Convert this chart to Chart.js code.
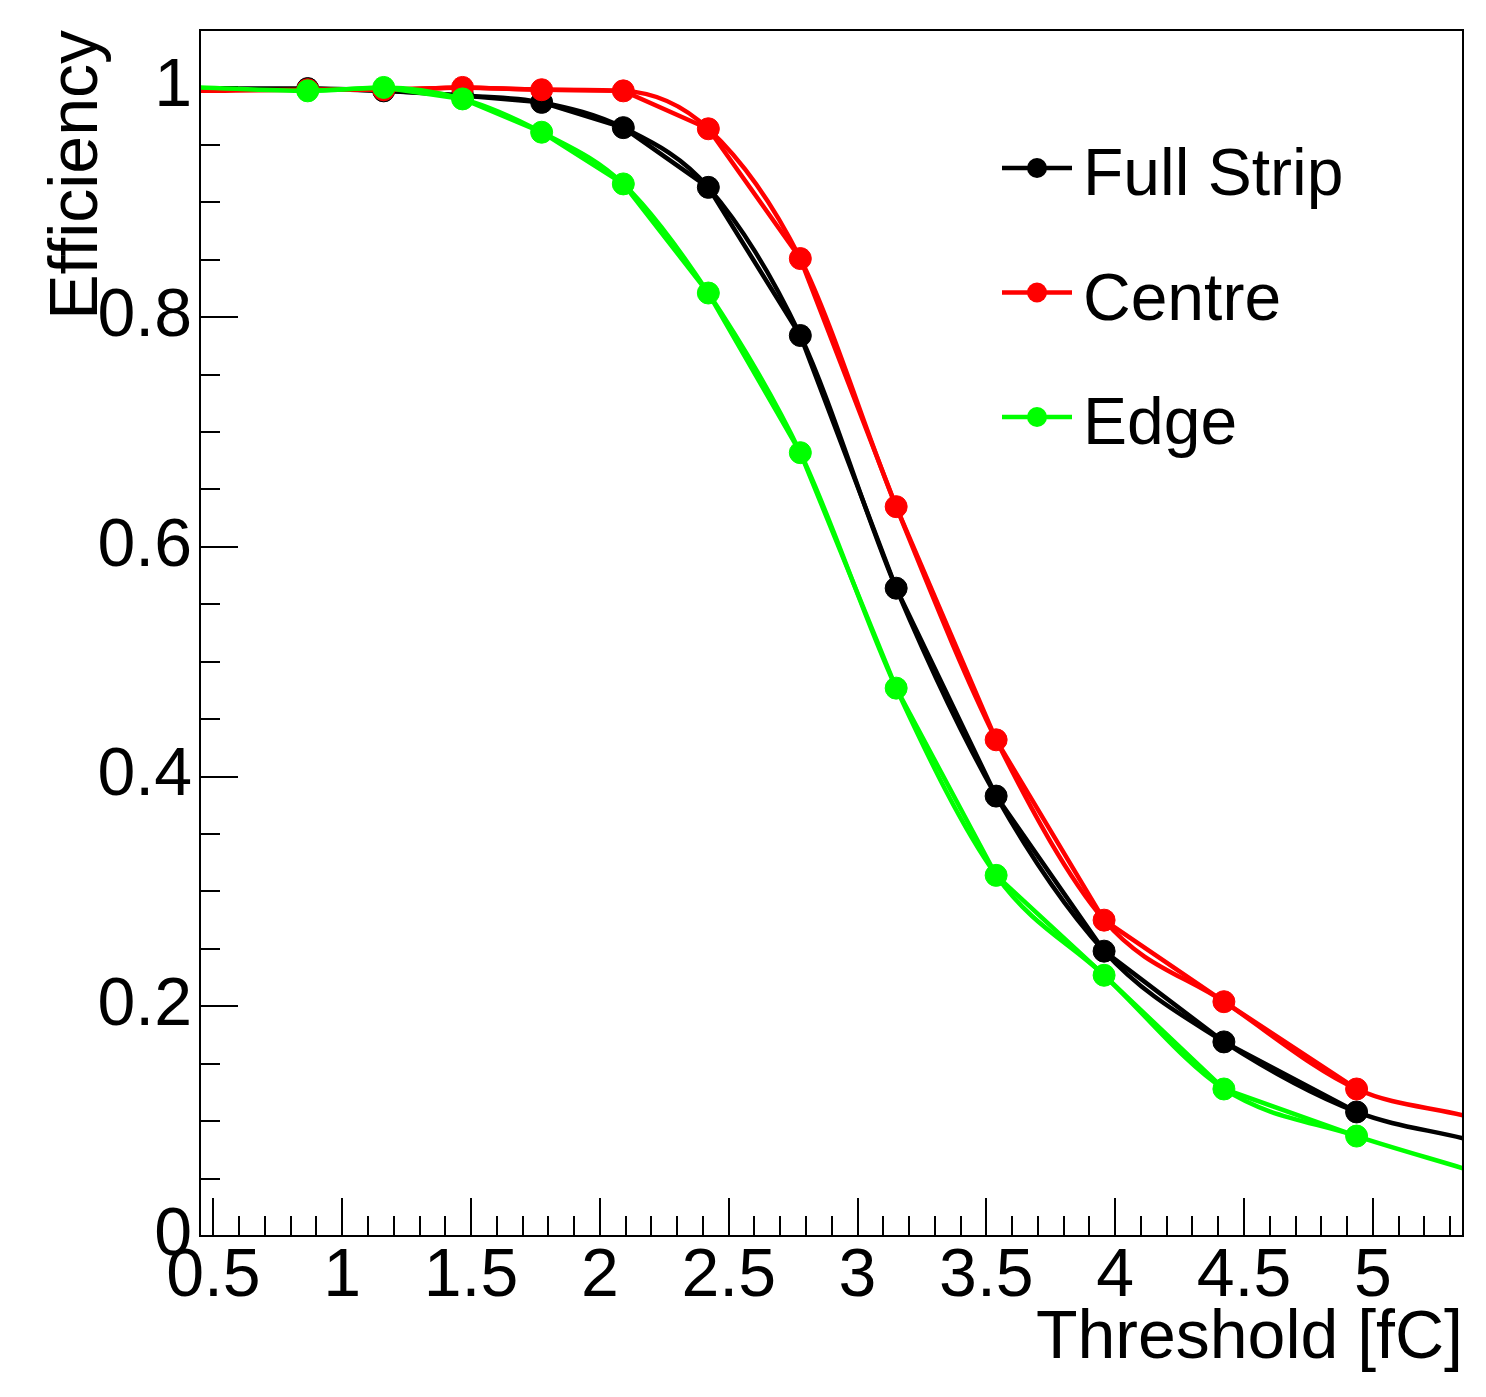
<!DOCTYPE html>
<html>
<head>
<meta charset="utf-8">
<script src="https://cdn.jsdelivr.net/npm/chart.js@4.4.1/dist/chart.umd.min.js"></script>
<style>
  html, body { margin: 0; padding: 0; background: #ffffff; }
  canvas { display: block; }
</style>
</head>
<body>
<canvas id="effChart" width="1486" height="1397"></canvas>
<script>
// Threshold scan points [fC]
const thresholds = [0.866, 1.161, 1.467, 1.774, 2.091, 2.421, 2.778, 3.150, 3.538, 3.957, 4.422, 4.937];

// Hit efficiency per threshold
const fullStrip = [0.999, 0.997, 0.993, 0.987, 0.965, 0.913, 0.784, 0.564, 0.383, 0.248, 0.169, 0.108];
const centre    = [0.998, 0.998, 1.000, 0.998, 0.997, 0.964, 0.851, 0.635, 0.432, 0.275, 0.204, 0.128];
const edge      = [0.997, 1.000, 0.990, 0.961, 0.916, 0.821, 0.682, 0.477, 0.314, 0.227, 0.128, 0.087];

// Smooth curve end values at the frame edges
const curveEndThresholds = [0.448, 5.35];
const fullStripEnds = [0.999, 0.085];
const centreEnds    = [0.997, 0.105];
const edgeEnds      = [1.000, 0.059];

// Axis ranges
const xRange = [0.448, 5.35];
const yRange = [0, 1.05];

const FONT = 'Liberation Sans';

const series = [
  { label: 'Full Strip', color: '#000000', values: fullStrip, ends: fullStripEnds },
  { label: 'Centre',     color: '#ff0000', values: centre,    ends: centreEnds },
  { label: 'Edge',       color: '#00ff00', values: edge,      ends: edgeEnds }
];

const datasets = [];
series.forEach((s, i) => {
  const base = (series.length - i) * 2;
  // smooth curve spanning the full frame
  const curvePts = [{ x: curveEndThresholds[0], y: s.ends[0] }]
    .concat(thresholds.map((x, k) => ({ x: x, y: s.values[k] })))
    .concat([{ x: curveEndThresholds[1], y: s.ends[1] }]);
  datasets.push({
    label: s.label + ' curve',
    data: curvePts,
    borderColor: s.color,
    backgroundColor: s.color,
    borderWidth: 4.5,
    pointRadius: 0,
    pointHoverRadius: 0,
    cubicInterpolationMode: 'monotone',
    fill: false,
    clip: 0,
    order: base
  });
  // measured points joined by straight segments
  datasets.push({
    label: s.label,
    data: thresholds.map((x, k) => ({ x: x, y: s.values[k] })),
    borderColor: s.color,
    backgroundColor: s.color,
    borderWidth: 4.5,
    pointRadius: 11,
    pointBorderWidth: 1,
    pointBorderColor: s.color,
    pointBackgroundColor: s.color,
    tension: 0,
    fill: false,
    order: base - 1
  });
});

// Frame around the plot and the inset legend
const frameLegend = {
  id: 'frameLegend',
  afterDraw(chart) {
    const { ctx, chartArea } = chart;
    ctx.save();
    ctx.strokeStyle = '#000000';
    ctx.lineWidth = 2;
    ctx.strokeRect(chartArea.left, chartArea.top,
      chartArea.right - chartArea.left, chartArea.bottom - chartArea.top);

    const x0 = chartArea.right - 461;
    series.forEach((s, i) => {
      const y = chartArea.top + 138 + i * 124.5;
      ctx.strokeStyle = s.color;
      ctx.lineWidth = 4.5;
      ctx.beginPath();
      ctx.moveTo(x0, y);
      ctx.lineTo(x0 + 70, y);
      ctx.stroke();
      ctx.fillStyle = s.color;
      ctx.beginPath();
      ctx.arc(x0 + 35, y, 10, 0, Math.PI * 2);
      ctx.fill();
      ctx.fillStyle = '#000000';
      ctx.font = '66px "' + FONT + '"';
      ctx.textAlign = 'left';
      ctx.textBaseline = 'alphabetic';
      ctx.fillText(s.label, x0 + 81, y + 27);
    });
    ctx.restore();
  }
};

const tickFont = { family: FONT, size: 68 };
const plainNumber = (v) => String(Number(Number(v).toFixed(3)));

function fixHorizontal(height) {
  return (s) => { s.height = height; s.paddingLeft = 0; s.paddingRight = 0; s.paddingTop = 0; s.paddingBottom = 0; };
}
function fixVertical(width) {
  return (s) => { s.width = width; s.paddingTop = 0; s.paddingBottom = 0; s.paddingLeft = 0; s.paddingRight = 0; };
}

new Chart(document.getElementById('effChart'), {
  type: 'line',
  data: { datasets: datasets },
  plugins: [frameLegend],
  options: {
    responsive: false,
    animation: false,
    devicePixelRatio: 1,
    layout: { padding: { top: 30, right: 23, left: 0, bottom: 0 } },
    plugins: { legend: { display: false }, tooltip: { enabled: false } },
    scales: {
      x: {
        type: 'linear', position: 'bottom', weight: 1,
        min: xRange[0], max: xRange[1],
        afterFit: fixHorizontal(161),
        ticks: {
          stepSize: 0.5, includeBounds: false, autoSkip: false,
          maxRotation: 0, minRotation: 0, padding: 38,
          color: '#000000', font: tickFont, callback: plainNumber
        },
        grid: { drawOnChartArea: false, drawTicks: true, tickLength: -38,
                color: '#000000', tickWidth: 2, lineWidth: 2 },
        border: { display: true, color: '#000000', width: 2 },
        title: { display: true, text: 'Threshold [fC]', align: 'end',
                 color: '#000000', font: tickFont, padding: { top: 0, bottom: 17 } }
      },
      xMinor: {
        type: 'linear', position: 'bottom', weight: 0,
        min: xRange[0], max: xRange[1],
        afterFit: fixHorizontal(0),
        ticks: { stepSize: 0.1, includeBounds: false, autoSkip: false, display: false },
        grid: { drawOnChartArea: false, drawTicks: true, tickLength: -20,
                color: '#000000', tickWidth: 2, lineWidth: 2 },
        border: { display: false }
      },
      y: {
        type: 'linear', position: 'left', weight: 1,
        min: yRange[0], max: yRange[1],
        afterFit: fixVertical(200),
        ticks: {
          stepSize: 0.2, includeBounds: false, autoSkip: false, padding: 46,
          color: '#000000', font: tickFont, callback: plainNumber
        },
        grid: { drawOnChartArea: false, drawTicks: true, tickLength: -38,
                color: '#000000', tickWidth: 2, lineWidth: 2 },
        border: { display: true, color: '#000000', width: 2 },
        title: { display: true, text: 'Efficiency', align: 'end',
                 color: '#000000', font: tickFont, padding: { top: 37, bottom: 0 } }
      },
      yMinor: {
        type: 'linear', position: 'left', weight: 0,
        min: yRange[0], max: yRange[1],
        afterFit: fixVertical(0),
        ticks: { stepSize: 0.05, includeBounds: false, autoSkip: false, display: false },
        grid: { drawOnChartArea: false, drawTicks: true, tickLength: -20,
                color: '#000000', tickWidth: 2, lineWidth: 2 },
        border: { display: false }
      }
    }
  }
});
</script>
</body>
</html>
